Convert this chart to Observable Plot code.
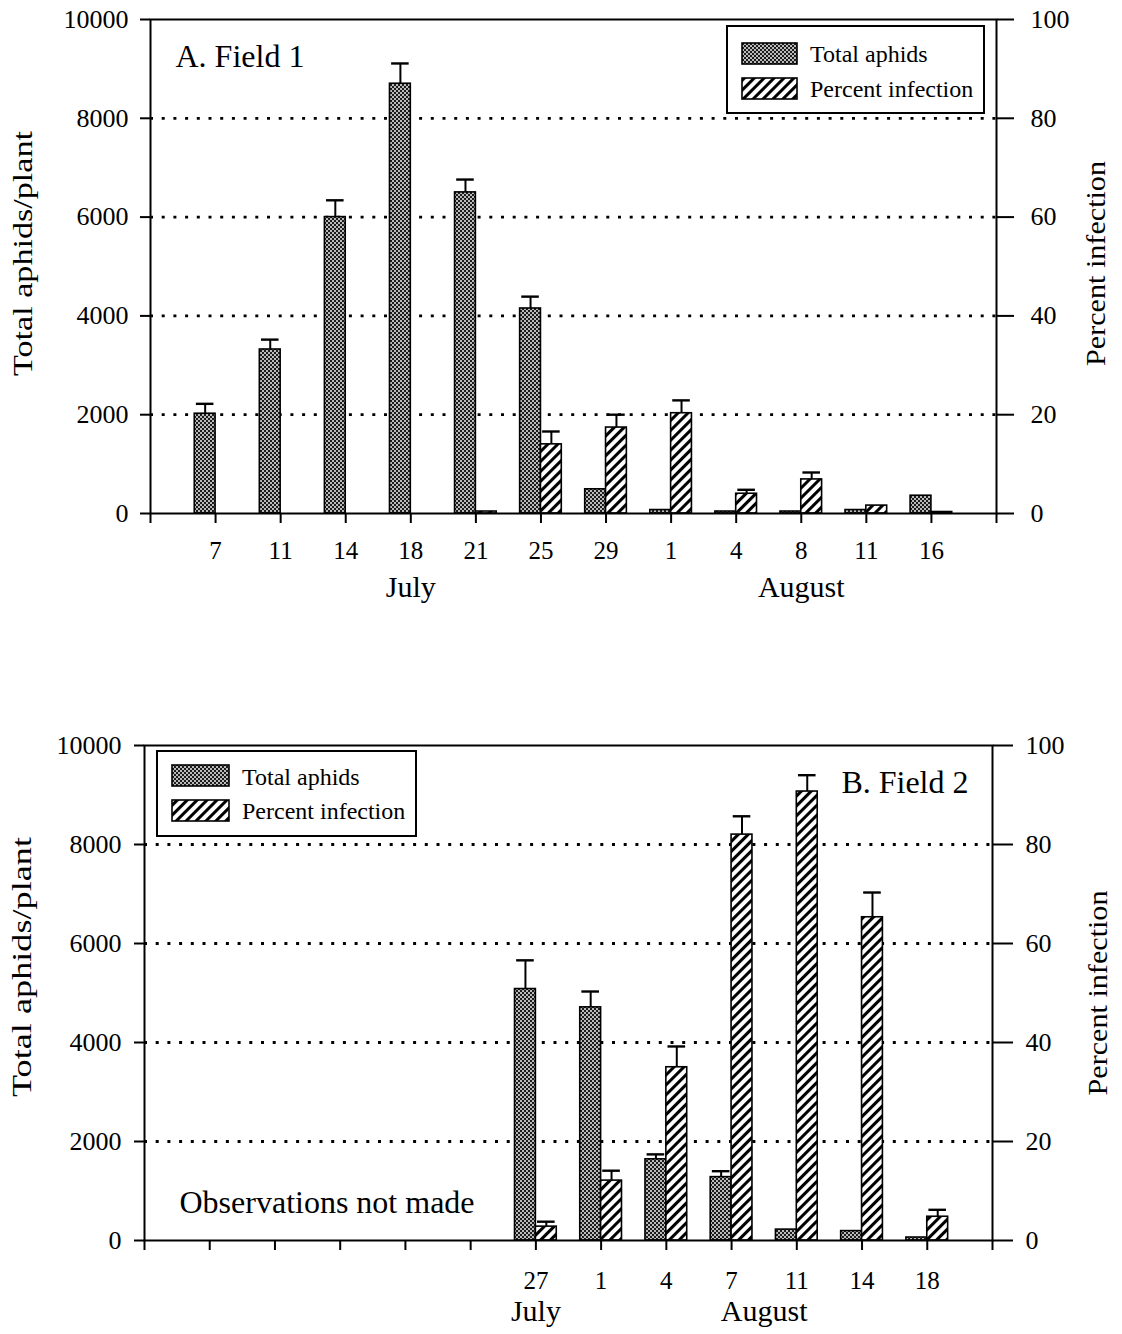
<!DOCTYPE html>
<html><head><meta charset="utf-8">
<script src="https://cdn.jsdelivr.net/npm/d3@7"></script>
<script src="https://cdn.jsdelivr.net/npm/@observablehq/plot@0.6"></script>
<style>
body{margin:0;background:#fff;font-family:"Liberation Serif","Times New Roman",serif;}
.panel{position:relative;width:1122px;}
.legend{position:absolute;}
</style></head><body>
<svg width="0" height="0" style="position:absolute">
<defs>
<pattern id="stipple" width="4" height="4" patternUnits="userSpaceOnUse">
<rect width="4" height="4" fill="#1c1c1c"/>
<circle cx="1" cy="1" r="0.95" fill="#fff"/>
<circle cx="3" cy="3" r="0.95" fill="#fff"/>
</pattern>
<pattern id="hatch" width="7" height="7" patternUnits="userSpaceOnUse" patternTransform="rotate(45)">
<rect width="7" height="7" fill="#fff"/>
<line x1="1.5" y1="0" x2="1.5" y2="7" stroke="#000" stroke-width="3.1"/>
</pattern>
</defs></svg>
<div id="A" class="panel"></div>
<div id="B" class="panel"></div>
<script>
// ---- Data ----
const datesA  = ["7","11","14","18","21","25","29","1","4","8","11","16"];
const monthsA = ["July","July","July","July","July","July","July","August","August","August","August","August"];
const aphidsA   = [2020, 3320, 6000, 8700, 6500, 4150, 490, 70, 40, 40, 70, 360];
const aphidsSEA = [200, 200, 340, 410, 260, 240, 0, 0, 0, 0, 0, 0];
const pctA      = [0, 0, 0, 0, 0.4, 14.0, 17.4, 20.3, 4.0, 6.9, 1.6, 0.3];
const pctSEA    = [0, 0, 0, 0, 0, 2.6, 2.6, 2.6, 0.8, 1.4, 0, 0];

const datesB  = [null,null,null,null,null,"27","1","4","7","11","14","18"];
const monthsB = [null,null,null,null,null,"July","August","August","August","August","August","August"];
const aphidsB   = [null,null,null,null,null, 5080, 4710, 1640, 1280, 220, 190, 60];
const aphidsSEB = [null,null,null,null,null, 580, 320, 100, 120, 0, 0, 0];
const pctB      = [null,null,null,null,null, 2.8, 12.1, 35.0, 82.0, 90.7, 65.3, 4.8];
const pctSEB    = [null,null,null,null,null, 1.0, 2.0, 4.2, 3.7, 3.3, 5.0, 1.4];

const aphidTicks = [0, 2000, 4000, 6000, 8000, 10000];
const pctTicks   = [0, 20, 40, 60, 80, 100];
const gridTicks  = [2000, 4000, 6000, 8000];
const legendLabels = ["Total aphids", "Percent infection"];
const legendFills  = ["url(#stipple)", "url(#hatch)"];

const AMAX = 10000, PMAX = 100, K = AMAX / PMAX;
const FONT = '"Liberation Serif","Times New Roman",serif';

function panel(c) {
  const rows = c.dates.map((d, i) => ({pos: i + 1, date: d, month: c.months[i],
    aphids: c.aphids[i], aphidSE: c.aphidSE[i], pct: c.pct[i], pctSE: c.pctSE[i]}));
  const obs = rows.filter(d => d.date != null);
  const bw = 0.32, cw = 0.27;
  const lab = new Map(obs.map(d => [d.pos, d.date]));
  const monthPos = d3.rollups(obs, v => d3.mean(v, d => d.pos), d => d.month).map(([m, p]) => ({month: m, pos: p}));
  const errA = obs.filter(d => d.aphidSE > 0), errP = obs.filter(d => d.pctSE > 0);
  const cA = d => d.pos - bw / 2, cP = d => d.pos + bw / 2;
  const svg = Plot.plot({
    width: 1122, height: c.height,
    marginTop: c.mt, marginBottom: c.mb, marginLeft: c.ml, marginRight: c.mr,
    x: {type: "linear", domain: [0, 13], axis: null},
    y: {domain: [0, AMAX], axis: null},
    style: {fontFamily: FONT, color: "#000", background: "#fff", fontSize: "24px"},
    marks: [
      Plot.gridY(gridTicks, {stroke: "#000", strokeOpacity: 1, strokeWidth: 2.8, strokeDasharray: "3,8.7"}),
      Plot.rectY(obs, {x1: d => d.pos - bw, x2: d => d.pos, y: "aphids", fill: "url(#stipple)", stroke: "#000", strokeWidth: 1.6}),
      Plot.rectY(obs, {x1: d => d.pos, x2: d => d.pos + bw, y: d => d.pct * K, fill: "url(#hatch)", stroke: "#000", strokeWidth: 1.6}),
      Plot.ruleX(errA, {x: cA, y1: "aphids", y2: d => d.aphids + d.aphidSE, strokeWidth: 2}),
      Plot.ruleY(errA, {y: d => d.aphids + d.aphidSE, x1: d => cA(d) - cw / 2, x2: d => cA(d) + cw / 2, strokeWidth: 2.4}),
      Plot.ruleX(errP, {x: cP, y1: d => d.pct * K, y2: d => (d.pct + d.pctSE) * K, strokeWidth: 2}),
      Plot.ruleY(errP, {y: d => (d.pct + d.pctSE) * K, x1: d => cP(d) - cw / 2, x2: d => cP(d) + cw / 2, strokeWidth: 2.4}),
      Plot.axisY(aphidTicks, {anchor: "left", label: null, tickFormat: v => String(v), tickSize: 10, tickPadding: c.lPad, fontSize: 26, strokeWidth: 2}),
      Plot.axisY(pctTicks.map(p => p * K), {anchor: "right", label: null, tickFormat: v => String(v / K), tickSize: c.rTick, tickPadding: c.rPad, fontSize: 26, strokeWidth: 2}),
      Plot.axisX(d3.range(0, 14), {anchor: "bottom", label: null, tickFormat: p => lab.get(p) ?? "", tickSize: 10, tickPadding: c.xPad, fontSize: 25, strokeWidth: 2}),
      Plot.text(monthPos, {x: "pos", text: "month", frameAnchor: "bottom", lineAnchor: "bottom", dy: c.monthDy, fontSize: 30}),
      Plot.frame({stroke: "#000", strokeWidth: 2}),
      Plot.text(["Total aphids/plant"], {frameAnchor: "left", textAnchor: "middle", lineAnchor: "middle", rotate: -90, dx: c.ltDx, dy: c.ltDy, fontSize: 28}),
      Plot.text(["Percent infection"], {frameAnchor: "right", textAnchor: "middle", lineAnchor: "middle", rotate: -90, dx: c.rtDx, dy: c.rtDy, fontSize: 28}),
      ...c.extra
    ]
  });
  d3.select(svg).selectAll("text").each(function() {
    const t = this.textContent;
    if (t === "Total aphids/plant") d3.select(this).attr("textLength", c.ltLen).attr("lengthAdjust", "spacingAndGlyphs");
    if (t === "Percent infection") d3.select(this).attr("textLength", c.rtLen).attr("lengthAdjust", "spacingAndGlyphs");
  });
  const host = document.getElementById(c.id);
  host.appendChild(svg);
  // legend box
  const L = c.legend;
  const lg = d3.select(host).append("svg").attr("class", "legend")
    .style("left", L.left + "px").style("top", L.top + "px")
    .attr("width", L.w + 4).attr("height", L.h + 4);
  lg.append("rect").attr("x", 1).attr("y", 1).attr("width", L.w).attr("height", L.h)
    .attr("fill", "#fff").attr("stroke", "#000").attr("stroke-width", 2);
  legendLabels.forEach((name, i) => {
    lg.append("rect").attr("x", L.sx).attr("y", L.sy[i]).attr("width", L.sw).attr("height", L.sh)
      .attr("fill", legendFills[i]).attr("stroke", "#000").attr("stroke-width", 1.6);
    lg.append("text").attr("x", L.tx).attr("y", L.ty[i]).text(name)
      .attr("font-family", FONT).attr("font-size", 24).attr("fill", "#000");
  });
}

panel({id: "A", height: 640, mt: 19, mb: 127, ml: 150, mr: 126,
  dates: datesA, months: monthsA, aphids: aphidsA, aphidSE: aphidsSEA, pct: pctA, pctSE: pctSEA,
  lPad: 12, rTick: 17, rPad: 17, xPad: 18, monthDy: 83,
  ltDx: -127, ltDy: -13, ltLen: 245, rtDx: 100, rtDy: -3, rtLen: 205,
  legend: {left: 726, top: 25, w: 257, h: 87, sx: 16, sy: [18, 53], sw: 55, sh: 21, tx: 84, ty: [37, 72]},
  extra: [
    Plot.text(["A. Field 1"], {frameAnchor: "top-left", lineAnchor: "bottom", dx: 25, dy: 47, fontSize: 32})
  ]});

panel({id: "B", height: 694, mt: 105, mb: 94, ml: 144, mr: 130,
  dates: datesB, months: monthsB, aphids: aphidsB, aphidSE: aphidsSEB, pct: pctB, pctSE: pctSEB,
  lPad: 13, rTick: 20, rPad: 13, xPad: 21, monthDy: 80,
  ltDx: -122, ltDy: -26, ltLen: 260, rtDx: 106, rtDy: 0, rtLen: 205,
  legend: {left: 156, top: 110, w: 259, h: 85, sx: 16, sy: [15, 50], sw: 57, sh: 21, tx: 86, ty: [35, 69]},
  extra: [
    Plot.text(["B. Field 2"], {frameAnchor: "top-right", lineAnchor: "bottom", dx: -24, dy: 47, fontSize: 32}),
    Plot.text(["Observations not made"], {frameAnchor: "bottom-left", lineAnchor: "bottom", dx: 35, dy: -28, fontSize: 32})
  ]});
</script>
</body></html>
